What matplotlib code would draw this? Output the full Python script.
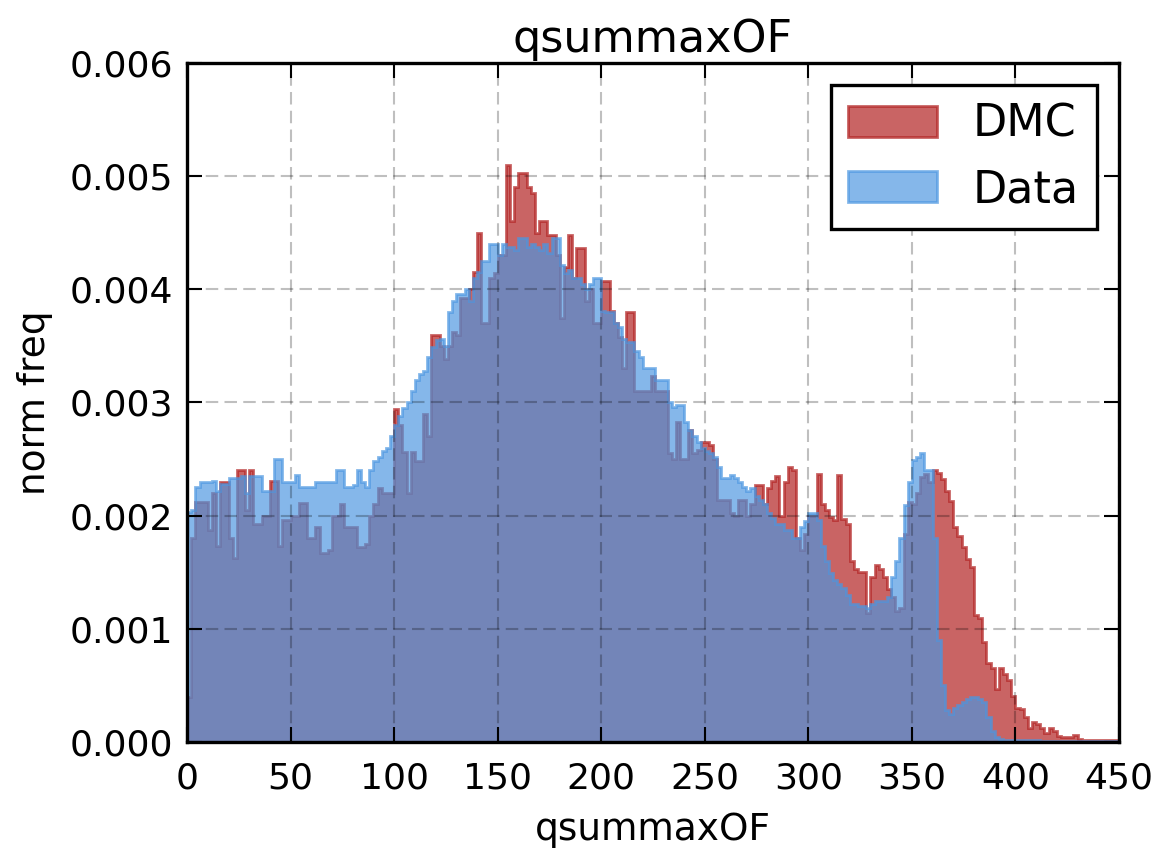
import numpy as np
import matplotlib
matplotlib.use("Agg")
import matplotlib.pyplot as plt

# bin edges of the histogram (width 2)
edges = np.arange(0, 452, 2)

dmc = [
    0.0004, 0.0018, 0.00212, 0.00212, 0.00212, 0.00187, 0.0022, 0.00173, 0.0023, 0.0023,
    0.0018, 0.00163, 0.0024, 0.0024, 0.00205, 0.0024, 0.00193, 0.00193, 0.002, 0.002,
    0.00231, 0.00231, 0.00173, 0.00196, 0.00196, 0.002, 0.002, 0.00211, 0.00211, 0.0018,
    0.0018, 0.0019, 0.00167, 0.00167, 0.0017, 0.002, 0.002, 0.0021, 0.0019, 0.0019,
    0.0019, 0.00172, 0.00172, 0.00175, 0.002, 0.0021, 0.00224, 0.0022, 0.0022, 0.0022,
    0.00294, 0.0028, 0.00256, 0.0022, 0.00256, 0.00248, 0.00248, 0.0029, 0.0027, 0.0036,
    0.0036, 0.0035, 0.00338, 0.0035, 0.00362, 0.0036, 0.00392, 0.00392, 0.004, 0.00415,
    0.0045, 0.0037, 0.0037, 0.0041, 0.00414, 0.0043, 0.0043, 0.0051, 0.0046, 0.0049,
    0.00503, 0.00503, 0.0049, 0.00485, 0.0045, 0.0046, 0.0046, 0.00448, 0.00448, 0.0043,
    0.00375, 0.0042, 0.00448, 0.0041, 0.00436, 0.00436, 0.0039, 0.004, 0.0037, 0.0037,
    0.00407, 0.00407, 0.00381, 0.0037, 0.00358, 0.0033, 0.0038, 0.0038, 0.0031, 0.0031,
    0.0031, 0.0031, 0.00323, 0.0031, 0.0031, 0.0031, 0.00255, 0.0025, 0.00283, 0.0025,
    0.0025, 0.00276, 0.00255, 0.00258, 0.00265, 0.00265, 0.00262, 0.0025, 0.00214, 0.00214,
    0.00214, 0.00202, 0.002, 0.00214, 0.00214, 0.002, 0.0021, 0.00227, 0.00227, 0.0021,
    0.00224, 0.00231, 0.00235, 0.002, 0.0023, 0.00243, 0.0024, 0.0018, 0.0017, 0.00184,
    0.002, 0.002, 0.00237, 0.0021, 0.00205, 0.00199, 0.00196, 0.00236, 0.00197, 0.00193,
    0.0016, 0.00153, 0.0015, 0.0015, 0.00114, 0.00146, 0.00156, 0.00153, 0.00146, 0.00135,
    0.00128, 0.00116, 0.00118, 0.00184, 0.00212, 0.0021, 0.0022, 0.00234, 0.00237, 0.0023,
    0.0024, 0.00238, 0.00232, 0.00222, 0.00213, 0.0019, 0.00182, 0.00172, 0.00162, 0.00155,
    0.00112, 0.0011, 0.00088, 0.0007, 0.00065, 0.00047, 0.00065, 0.0006, 0.00055, 0.00041,
    0.0003, 0.00029, 0.00022, 0.00012, 0.00018, 0.00016, 0.00012, 0.00008, 0.00012, 0.0001,
    0.00005, 0.00004, 0.00004, 0.00004, 0.00006, 0.00003, 0.00002, 0.00002, 0.00002, 0.00002,
    0.00002, 0.00002, 0.00002, 0.00002, 0.00002,
]

data = [
    0.00203, 0.00205, 0.00225, 0.0023, 0.0023, 0.0023, 0.00231, 0.00222, 0.00228, 0.00228,
    0.00233, 0.00233, 0.00233, 0.00235, 0.0022, 0.00235, 0.00235, 0.00235, 0.00222, 0.00222,
    0.00222, 0.0025, 0.0025, 0.0023, 0.0023, 0.0023, 0.00236, 0.00225, 0.00225, 0.00225,
    0.00225, 0.0023, 0.0023, 0.0023, 0.0023, 0.0023, 0.0024, 0.0024, 0.00225, 0.00225,
    0.00227, 0.0024, 0.0023, 0.00225, 0.0024, 0.00248, 0.00252, 0.00257, 0.0026, 0.0027,
    0.0028, 0.00288, 0.00295, 0.003, 0.0031, 0.0032, 0.00325, 0.00328, 0.0034, 0.00349,
    0.00355, 0.00356, 0.0035, 0.0038, 0.0039, 0.00396, 0.00396, 0.004, 0.0039, 0.0041,
    0.00415, 0.00425, 0.00425, 0.0044, 0.0044, 0.0043, 0.0044, 0.00437, 0.00437, 0.00435,
    0.00445, 0.00445, 0.00437, 0.0044, 0.00437, 0.00435, 0.0044, 0.00432, 0.00445, 0.00445,
    0.00421, 0.00414, 0.00417, 0.0041, 0.0041, 0.00405, 0.004, 0.00405, 0.0041, 0.0041,
    0.00381, 0.0038, 0.0038, 0.0037, 0.00367, 0.00356, 0.00353, 0.00353, 0.00345, 0.0034,
    0.0033, 0.0033, 0.0033, 0.0032, 0.0032, 0.0032, 0.003, 0.00296, 0.00298, 0.00298,
    0.00283, 0.00276, 0.0027, 0.00265, 0.0026, 0.00257, 0.00255, 0.00252, 0.00243, 0.00233,
    0.00233, 0.00236, 0.00233, 0.0023, 0.00225, 0.00222, 0.00224, 0.00217, 0.00214, 0.0021,
    0.00202, 0.00198, 0.00193, 0.00193, 0.00187, 0.00187, 0.0018, 0.0018, 0.0019, 0.00195,
    0.00202, 0.00202, 0.00196, 0.00173, 0.0016, 0.00149, 0.00143, 0.0014, 0.00136, 0.0013,
    0.00122, 0.00122, 0.0012, 0.0012, 0.00118, 0.00122, 0.00125, 0.00125, 0.00125, 0.00128,
    0.00146, 0.0016, 0.0018, 0.00209, 0.0023, 0.00249, 0.00252, 0.00255, 0.0024, 0.0024,
    0.0018, 0.0009, 0.0005, 0.00028, 0.00025, 0.0003, 0.00033, 0.00035, 0.00038, 0.0004,
    0.0004, 0.00038, 0.00035, 0.00022, 0.0001, 0.00004, 0.00003, 0.00002, 0.00002, 0.00002,
    0.00002, 0.00002, 0.00002, 0.00002, 0.00002, 0.00002, 0.00001, 0.00001, 0.00001, 0.00001,
    0.00001, 0.00001, 0.00001, 0.00001, 0.00001, 0.00001, 0.00001, 0.00001, 0.00001, 0.00001,
    0.00001, 0.00001, 0.00001, 0.00001, 0.00001,
]

xticks = [0, 50, 100, 150, 200, 250, 300, 350, 400, 450]
yticks = [0.000, 0.001, 0.002, 0.003, 0.004, 0.005, 0.006]

plt.rcParams['font.family'] = 'DejaVu Sans'

fig = plt.figure(figsize=(11.62, 8.49), dpi=100)
ax = fig.add_axes([0.161, 0.126, 0.802, 0.8])

ax.hist(edges[:-1], bins=edges, weights=dmc, histtype='stepfilled',
        color='#b22222', edgecolor='#b22222', lw=2, alpha=0.7, label='DMC')
ax.hist(edges[:-1], bins=edges, weights=data, histtype='stepfilled',
        color='#4b96e1', edgecolor='#4b96e1', lw=2, alpha=0.68, label='Data')

ax.set_xlim(0, 450)
ax.set_ylim(0, 0.006)
ax.set_xticks(xticks)
ax.set_yticks(yticks)
ax.set_yticklabels(['%.3f' % v for v in yticks])

ax.grid(True, color='k', alpha=0.25, linestyle='--', lw=1.5, dashes=(6, 3))
ax.tick_params(direction='in', length=11, width=1.5, labelsize=26,
               top=True, right=True)
ax.tick_params(axis='x', pad=14)
ax.tick_params(axis='y', pad=10)
for s in ax.spines.values():
    s.set_linewidth(2.4)

ax.set_title('qsummaxOF', fontsize=32, pad=8)
ax.set_xlabel('qsummaxOF', fontsize=27, labelpad=12)
ax.set_ylabel('norm freq', fontsize=27, labelpad=12)

leg = ax.legend(loc='upper right', fontsize=32, fancybox=False,
                framealpha=1, edgecolor='k', borderaxespad=0.5)
leg.get_frame().set_linewidth(2.4)

fig.savefig('out.png', dpi=100)
